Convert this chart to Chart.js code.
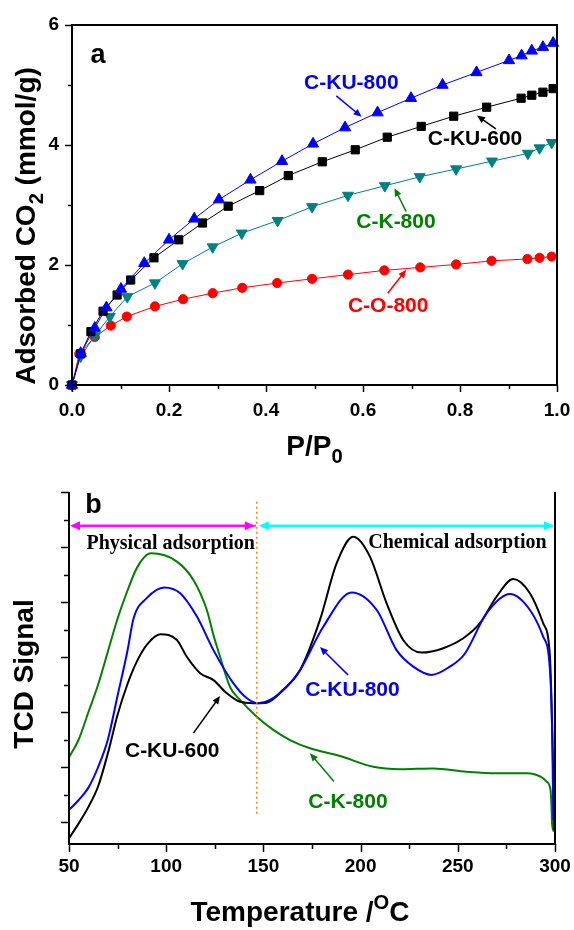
<!DOCTYPE html>
<html>
<head>
<meta charset="utf-8">
<script src="https://cdn.jsdelivr.net/npm/chart.js@4.4.1/dist/chart.umd.min.js"></script>
<style>
  html, body { margin: 0; padding: 0; background: #fff; }
  body { width: 574px; height: 930px; position: relative; overflow: hidden; }
  .panel { position: absolute; left: 0; width: 574px; height: 470px; }
  #panelA { top: 0; }
  #panelB { top: 460px; }
</style>
</head>
<body>
<div class="panel" id="panelA"><canvas id="chartA" width="574" height="470"></canvas></div>
<div class="panel" id="panelB"><canvas id="chartB" width="574" height="470"></canvas></div>
<script>
// ---- panel a: CO2 isotherms (P/P0 vs mmol/g)
const cku800P = [0, 0.018, 0.047, 0.071, 0.101, 0.149, 0.2, 0.252, 0.303, 0.368, 0.433, 0.497, 0.563, 0.63, 0.699, 0.764, 0.834, 0.901, 0.927, 0.948, 0.971, 0.992];
const cku800Q = [0, 0.53, 0.95, 1.29, 1.6, 2.03, 2.42, 2.77, 3.09, 3.42, 3.73, 4.02, 4.29, 4.54, 4.78, 5.0, 5.21, 5.41, 5.49, 5.57, 5.63, 5.7];

const cku600P = [0, 0.018, 0.039, 0.064, 0.093, 0.121, 0.169, 0.22, 0.269, 0.322, 0.387, 0.446, 0.516, 0.584, 0.65, 0.72, 0.787, 0.855, 0.926, 0.948, 0.971, 0.992];
const cku600Q = [0, 0.52, 0.89, 1.23, 1.5, 1.75, 2.12, 2.42, 2.7, 2.98, 3.24, 3.49, 3.72, 3.92, 4.13, 4.31, 4.48, 4.63, 4.78, 4.83, 4.88, 4.94];

const ck800P = [0, 0.018, 0.047, 0.078, 0.114, 0.171, 0.228, 0.29, 0.35, 0.424, 0.495, 0.569, 0.645, 0.717, 0.792, 0.866, 0.94, 0.964, 0.989];
const ck800Q = [0, 0.48, 0.82, 1.14, 1.47, 1.7, 2.02, 2.3, 2.53, 2.74, 2.97, 3.16, 3.32, 3.47, 3.6, 3.73, 3.86, 3.95, 4.04];

const co800P = [0, 0.015, 0.047, 0.08, 0.113, 0.171, 0.229, 0.29, 0.351, 0.423, 0.495, 0.569, 0.644, 0.718, 0.792, 0.865, 0.939, 0.964, 0.989];
const co800Q = [0, 0.52, 0.8, 0.99, 1.14, 1.31, 1.43, 1.53, 1.62, 1.7, 1.77, 1.84, 1.91, 1.96, 2.01, 2.07, 2.1, 2.12, 2.14];

const pressureTicks = [0, 0.2, 0.4, 0.6, 0.8, 1.0];
const uptakeTicks = [0, 2, 4, 6];

// ---- panel b: CO2-TPD (temperature vs TCD signal, arbitrary units)
const ku600Temp = [50, 55, 60, 65, 70, 75, 80, 85, 90.1, 96.9, 105.5, 110.6, 117.5, 124.3, 131.2, 138, 144.9, 151.7, 160, 168.9, 179.1, 187.7, 196.2, 204.8, 213.4, 221.9, 231.4, 242.5, 252.8, 261.4, 269.9, 278.5, 287.1, 293.9, 297.4, 298.7, 299.6];
const ku600Tcd = [-0.59, -0.05, 0.55, 1.3, 2.5, 3.9, 5.0, 5.85, 6.45, 6.83, 6.62, 6.01, 5.41, 5.16, 4.68, 4.37, 4.32, 4.34, 4.8, 5.53, 7.35, 9.41, 10.37, 9.65, 7.95, 6.62, 6.16, 6.32, 6.68, 7.23, 8.19, 8.84, 8.32, 7.23, 6.01, 2.98, -0.29];

const ku800Temp = [50, 55, 60, 65, 70, 75, 80, 83.2, 90.1, 99, 107.2, 115.8, 124.3, 134.6, 141.5, 147.4, 153.4, 162, 168.9, 180.8, 195.4, 208.3, 218.5, 227.1, 236.5, 245.9, 253.4, 264.8, 276.8, 287.1, 293.9, 297.4, 298.7, 299.1];
const ku800Tcd = [0.44, 0.8, 1.25, 2.0, 3.0, 4.6, 6.2, 7.4, 8.15, 8.53, 8.32, 7.47, 6.25, 5.04, 4.5, 4.32, 4.44, 4.92, 5.53, 7.1, 8.35, 7.71, 6.25, 5.65, 5.35, 5.65, 6.1, 7.59, 8.29, 7.71, 6.74, 5.53, 2.62, 0.07];

const k800Temp = [50, 55, 60, 65, 70, 75, 80, 85, 92.1, 105.5, 114, 120.9, 124.3, 127.7, 132.9, 138, 146.6, 155.1, 163.7, 174, 189.4, 206.5, 220.3, 237.4, 254.5, 269.9, 285.4, 293.9, 295.6, 297.7, 298.2, 298.5, 299.4];
const k800Tcd = [2.35, 3.0, 4.0, 5.0, 6.2, 7.4, 8.4, 9.25, 9.77, 9.47, 8.8, 7.71, 6.8, 6.01, 4.9, 4.44, 3.83, 3.35, 2.98, 2.68, 2.4, 2.01, 1.92, 1.95, 1.83, 1.77, 1.77, 1.59, 1.47, 1.16, 0.56, -0.05, -0.35];

const tempTicks = [50, 100, 150, 200, 250, 300];
const tcdTicks = [0, 1, 2, 3, 4, 5, 6, 7, 8, 9, 10, 11, 12];

const SANS = "'Liberation Sans', Arial, sans-serif";
const SERIF = "'Liberation Serif', 'Times New Roman', serif";

function pts(xs, ys) {
  return xs.map((x, i) => ({ x: x, y: ys[i] }));
}

// draw text made of pieces (normal / sub / sup), centred on x, with baseline y
function richText(ctx, parts, cx, cy, size, rotate) {
  ctx.save();
  ctx.translate(cx, cy);
  if (rotate) ctx.rotate(-Math.PI / 2);
  ctx.fillStyle = '#000';
  ctx.textBaseline = 'alphabetic';
  ctx.textAlign = 'left';
  let total = 0;
  parts.forEach(p => {
    ctx.font = 'bold ' + (p.small ? size * 0.72 : size) + 'px ' + SANS;
    p.w = ctx.measureText(p.t).width;
    total += p.w;
  });
  let x = -total / 2;
  parts.forEach(p => {
    ctx.font = 'bold ' + (p.small ? size * 0.72 : size) + 'px ' + SANS;
    const dy = p.small === 'sub' ? size * 0.28 : (p.small === 'sup' ? -size * 0.42 : 0);
    ctx.fillText(p.t, x, dy);
    x += p.w;
  });
  ctx.restore();
}

function arrow(ctx, x1, y1, x2, y2, color, width, head, half) {
  const a = Math.atan2(y2 - y1, x2 - x1);
  ctx.save();
  ctx.strokeStyle = color;
  ctx.fillStyle = color;
  ctx.lineWidth = width;
  ctx.beginPath();
  ctx.moveTo(x1, y1);
  ctx.lineTo(x2 - Math.cos(a) * head * 0.6, y2 - Math.sin(a) * head * 0.6);
  ctx.stroke();
  ctx.beginPath();
  ctx.moveTo(x2, y2);
  ctx.lineTo(x2 - head * Math.cos(a) + half * Math.sin(a), y2 - head * Math.sin(a) - half * Math.cos(a));
  ctx.lineTo(x2 - head * Math.cos(a) - half * Math.sin(a), y2 - head * Math.sin(a) + half * Math.cos(a));
  ctx.closePath();
  ctx.fill();
  ctx.restore();
}

function tickMarks(scale, values, len) {
  const ctx = scale.ctx;
  const area = scale.chart.chartArea;
  ctx.save();
  ctx.strokeStyle = '#000';
  ctx.lineWidth = 1.5;
  values.forEach(v => {
    const p = Math.round(scale.getPixelForValue(v)) + 0.5;
    ctx.beginPath();
    if (scale.isHorizontal()) {
      ctx.moveTo(p, area.bottom);
      ctx.lineTo(p, area.bottom + len);
    } else {
      ctx.moveTo(area.left, p);
      ctx.lineTo(area.left - len, p);
    }
    ctx.stroke();
  });
  ctx.restore();
}

function midpoints(arr) {
  const out = [];
  for (let i = 0; i < arr.length - 1; i++) out.push((arr[i] + arr[i + 1]) / 2);
  return out;
}

// keep the plot area fixed: labels must not push the edges in
function noEdgePadding(s) {
  s.paddingLeft = 0;
  s.paddingRight = 0;
  s.paddingTop = 0;
  s.paddingBottom = 0;
}

function labelNotes(chart, notes) {
  const ctx = chart.ctx;
  const xs = chart.scales.x, ys = chart.scales.y;
  notes.forEach(n => {
    ctx.save();
    ctx.font = 'bold 21px ' + SANS;
    ctx.fillStyle = n.color;
    ctx.textAlign = 'center';
    ctx.textBaseline = 'middle';
    ctx.fillText(n.text, xs.getPixelForValue(n.x), ys.getPixelForValue(n.y));
    ctx.restore();
    arrow(ctx, xs.getPixelForValue(n.from[0]), ys.getPixelForValue(n.from[1]),
      xs.getPixelForValue(n.to[0]), ys.getPixelForValue(n.to[1]), n.color, 1.5, 8, 3.5);
  });
}

// ---------------- chart a ----------------
const notesA = [
  { text: 'C-KU-800', color: '#0000ff', x: 0.576, y: 5.03, from: [0.545, 4.82], to: [0.597, 4.47] },
  { text: 'C-KU-600', color: '#000000', x: 0.831, y: 4.09, from: [0.874, 4.27], to: [0.835, 4.49] },
  { text: 'C-K-800', color: '#008000', x: 0.668, y: 2.71, from: [0.689, 2.89], to: [0.665, 3.28] },
  { text: 'C-O-800', color: '#ff0000', x: 0.652, y: 1.32, from: [0.651, 1.53], to: [0.689, 1.92] }
];

const decorA = {
  id: 'decorA',
  afterDraw(chart) {
    const ctx = chart.ctx;
    const a = chart.chartArea;
    const xs = chart.scales.x, ys = chart.scales.y;
    // frame
    ctx.save();
    ctx.strokeStyle = '#000';
    ctx.lineWidth = 2;
    ctx.strokeRect(a.left, a.top, a.right - a.left, a.bottom - a.top);
    ctx.restore();
    tickMarks(xs, pressureTicks, 7);
    tickMarks(xs, midpoints(pressureTicks), 4);
    tickMarks(ys, uptakeTicks, 7);
    tickMarks(ys, midpoints(uptakeTicks), 4);
    labelNotes(chart, notesA);
    ctx.save();
    ctx.font = 'bold 27px ' + SANS;
    ctx.fillStyle = '#000';
    ctx.textBaseline = 'middle';
    ctx.fillText('a', xs.getPixelForValue(0.038), ys.getPixelForValue(5.49));
    ctx.restore();
    richText(ctx, [{ t: 'Adsorbed CO' }, { t: '2', small: 'sub' }, { t: ' (mmol/g)' }], 35, 226, 28, true);
    richText(ctx, [{ t: 'P/P' }, { t: '0', small: 'sub' }], (a.left + a.right) / 2, 455, 28, false);
  }
};

new Chart(document.getElementById('chartA'), {
  type: 'line',
  data: {
    datasets: [
      { label: 'C-KU-800', data: pts(cku800P, cku800Q), borderColor: '#0000ff', backgroundColor: '#0000ff',
        pointStyle: 'triangle', pointRadius: 6.5, borderWidth: 1 },
      { label: 'C-KU-600', data: pts(cku600P, cku600Q), borderColor: '#000000', backgroundColor: '#000000',
        pointStyle: 'rect', pointRadius: 5.8, borderWidth: 1 },
      { label: 'C-K-800', data: pts(ck800P, ck800Q), borderColor: '#008080', backgroundColor: '#008080',
        pointStyle: 'triangle', pointRotation: 180, pointRadius: 6.3, borderWidth: 1 },
      { label: 'C-O-800', data: pts(co800P, co800Q), borderColor: '#ff0000', backgroundColor: '#ff0000',
        pointStyle: 'circle', pointRadius: 4.6, borderWidth: 1 }
    ]
  },
  options: {
    responsive: false,
    animation: false,
    clip: false,
    layout: { padding: { left: 0, top: 25, right: 17, bottom: 0 } },
    plugins: { legend: { display: false }, tooltip: { enabled: false } },
    elements: { point: { borderWidth: 0 }, line: { tension: 0 } },
    scales: {
      x: {
        type: 'linear', min: 0, max: 1,
        grid: { display: false }, border: { display: false },
        afterBuildTicks: s => { s.ticks = pressureTicks.map(v => ({ value: v })); },
        afterFit: s => { s.height = 85; noEdgePadding(s); },
        ticks: { padding: 6, color: '#000', font: { family: SANS, size: 19, weight: 'bold' },
          maxRotation: 0, callback: v => v.toFixed(1) }
      },
      y: {
        min: 0, max: 6,
        grid: { display: false }, border: { display: false },
        afterBuildTicks: s => { s.ticks = uptakeTicks.map(v => ({ value: v })); },
        afterFit: s => { s.width = 72; noEdgePadding(s); },
        ticks: { padding: 5, color: '#000', font: { family: SANS, size: 19, weight: 'bold' },
          callback: v => String(v) }
      }
    }
  },
  plugins: [decorA]
});

// ---------------- chart b ----------------
const notesB = [
  { text: 'C-KU-800', color: '#0000ff', x: 195.8, y: 4.8, from: [193.5, 5.35], to: [179.1, 6.36] },
  { text: 'C-KU-600', color: '#000000', x: 103.1, y: 2.56, from: [114, 3.23], to: [127.7, 4.58] },
  { text: 'C-K-800', color: '#008000', x: 193.5, y: 0.73, from: [186.3, 1.47], to: [174, 2.5] }
];

const decorB = {
  id: 'decorB',
  afterDraw(chart) {
    const ctx = chart.ctx;
    const a = chart.chartArea;
    const xs = chart.scales.x, ys = chart.scales.y;
    ctx.save();
    ctx.strokeStyle = '#000';
    ctx.lineWidth = 2;
    ctx.beginPath();
    ctx.moveTo(a.left, a.top);
    ctx.lineTo(a.left, a.bottom);
    ctx.lineTo(a.right, a.bottom);
    ctx.lineTo(a.right, a.top);
    ctx.stroke();
    ctx.restore();
    tickMarks(xs, tempTicks, 8);
    tickMarks(xs, midpoints(tempTicks), 5);
    tickMarks(ys, tcdTicks.filter(v => v % 2 === 0), 8);
    tickMarks(ys, tcdTicks.filter(v => v % 2 === 1), 5);

    // boundary between physical and chemical adsorption
    const split = xs.getPixelForValue(146.6);
    ctx.save();
    ctx.strokeStyle = '#ff8000';
    ctx.lineWidth = 1.5;
    ctx.setLineDash([2, 3]);
    ctx.beginPath();
    ctx.moveTo(split, ys.getPixelForValue(11.65));
    ctx.lineTo(split, ys.getPixelForValue(0.19));
    ctx.stroke();
    ctx.restore();

    const ay = ys.getPixelForValue(10.77);
    const l = xs.getPixelForValue(50), r = xs.getPixelForValue(300);
    arrow(ctx, split - 1, ay, l + 1, ay, '#ff00ff', 2, 10, 4.5);
    arrow(ctx, l + 12, ay, split - 2, ay, '#ff00ff', 2, 10, 4.5);
    arrow(ctx, r - 2, ay, split + 2, ay, '#00ffff', 2, 10, 4.5);
    arrow(ctx, split + 12, ay, r - 1, ay, '#00ffff', 2, 10, 4.5);

    ctx.save();
    ctx.font = 'bold 20px ' + SERIF;
    ctx.fillStyle = '#000';
    ctx.textAlign = 'center';
    ctx.textBaseline = 'middle';
    ctx.fillText('Physical adsorption', xs.getPixelForValue(102.3), ys.getPixelForValue(10.1));
    ctx.fillText('Chemical adsorption', xs.getPixelForValue(249.8), ys.getPixelForValue(10.15));
    ctx.font = 'bold 27px ' + SANS;
    ctx.textAlign = 'left';
    ctx.fillText('b', xs.getPixelForValue(58.3), ys.getPixelForValue(11.5));
    ctx.restore();

    labelNotes(chart, notesB);
    richText(ctx, [{ t: 'TCD Signal' }], 33, 214, 28, true);
    richText(ctx, [{ t: 'Temperature /' }, { t: 'O', small: 'sup' }, { t: 'C' }], 300, 461, 28, false);
  }
};

new Chart(document.getElementById('chartB'), {
  type: 'line',
  data: {
    datasets: [
      { label: 'C-KU-800', data: pts(ku800Temp, ku800Tcd), borderColor: '#0000ff' },
      { label: 'C-KU-600', data: pts(ku600Temp, ku600Tcd), borderColor: '#000000' },
      { label: 'C-K-800', data: pts(k800Temp, k800Tcd), borderColor: '#008000' }
    ]
  },
  options: {
    responsive: false,
    animation: false,
    layout: { padding: { left: 0, top: 32, right: 19, bottom: 0 } },
    plugins: { legend: { display: false }, tooltip: { enabled: false } },
    elements: {
      point: { radius: 0 },
      line: { borderWidth: 2, cubicInterpolationMode: 'monotone' }
    },
    scales: {
      x: {
        type: 'linear', min: 50, max: 300,
        grid: { display: false }, border: { display: false },
        afterBuildTicks: s => { s.ticks = tempTicks.map(v => ({ value: v })); },
        afterFit: s => { s.height = 86; noEdgePadding(s); },
        ticks: { padding: 3, color: '#000', font: { family: SANS, size: 19, weight: 'bold' }, maxRotation: 0 }
      },
      y: {
        min: -0.8, max: 12,
        grid: { display: false }, border: { display: false },
        afterFit: s => { s.width = 69; noEdgePadding(s); },
        ticks: { display: false }
      }
    }
  },
  plugins: [decorB]
});
</script>
</body>
</html>
